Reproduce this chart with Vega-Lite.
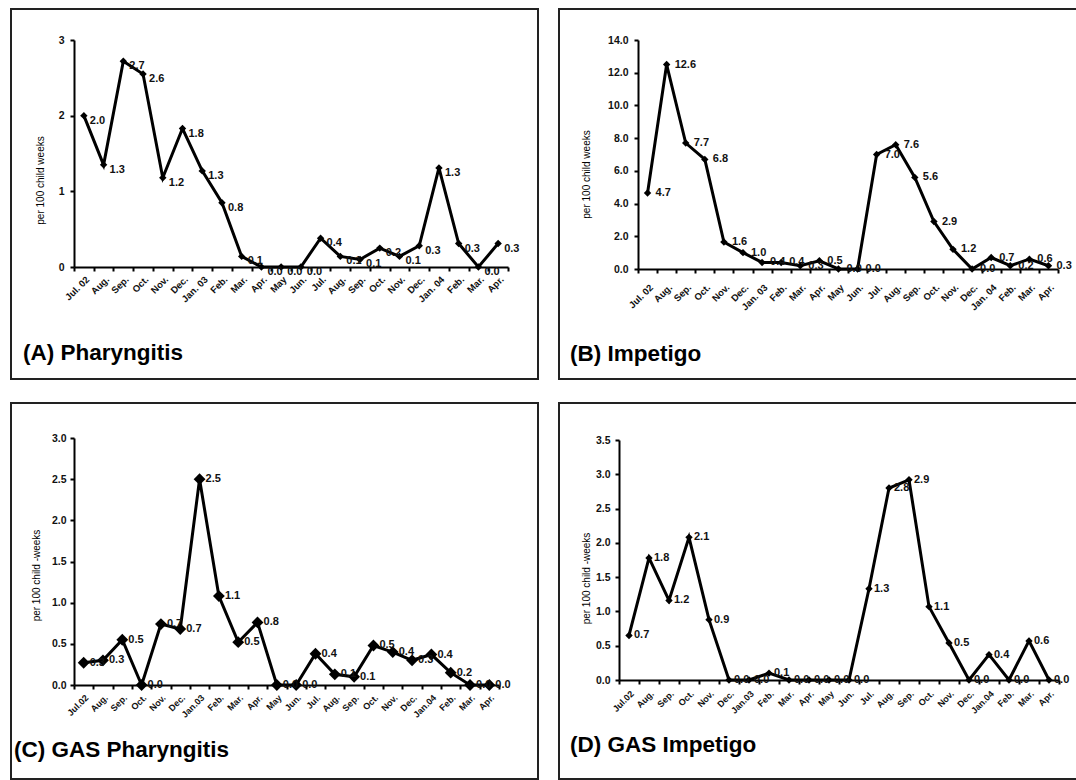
{
  "$schema": "https://vega.github.io/schema/vega-lite/v6.json",
  "padding": {"left": 10, "top": 8, "right": 0, "bottom": 0},
  "background": "white",
  "config": {
    "view": {"stroke": "#222", "strokeWidth": 2},
    "font": "Liberation Sans",
    "title": {"font": "Liberation Sans", "fontSize": 22.5, "fontWeight": "bold", "color": "black", "orient": "bottom", "anchor": "start"},
    "axis": {"grid": false, "domainColor": "black", "domainWidth": 2, "tickColor": "black", "tickWidth": 2, "tickSize": 4, "labelFont": "Liberation Sans", "labelFontWeight": "bold", "labelColor": "#111", "labelFontSize": 10.5, "titleFont": "Liberation Sans", "titleFontWeight": "normal", "titleFontSize": 10, "titleColor": "black", "titleBaseline": "middle", "titleAngle": -90}
  },
  "data": {"values": [
    {"p":"A","i":1,"v":2.0,"t":"2.0"},{"p":"A","i":2,"v":1.35,"t":"1.3"},{"p":"A","i":3,"v":2.72,"t":"2.7"},{"p":"A","i":4,"v":2.55,"t":"2.6"},{"p":"A","i":5,"v":1.18,"t":"1.2"},{"p":"A","i":6,"v":1.83,"t":"1.8"},{"p":"A","i":7,"v":1.27,"t":"1.3"},{"p":"A","i":8,"v":0.85,"t":"0.8"},{"p":"A","i":9,"v":0.14,"t":"0.1"},{"p":"A","i":10,"v":0,"t":"0.0"},{"p":"A","i":11,"v":0,"t":"0.0"},{"p":"A","i":12,"v":0,"t":"0.0"},{"p":"A","i":13,"v":0.38,"t":"0.4"},{"p":"A","i":14,"v":0.14,"t":"0.1"},{"p":"A","i":15,"v":0.1,"t":"0.1"},{"p":"A","i":16,"v":0.25,"t":"0.2"},{"p":"A","i":17,"v":0.14,"t":"0.1"},{"p":"A","i":18,"v":0.28,"t":"0.3"},{"p":"A","i":19,"v":1.31,"t":"1.3"},{"p":"A","i":20,"v":0.31,"t":"0.3"},{"p":"A","i":21,"v":0,"t":"0.0"},{"p":"A","i":22,"v":0.31,"t":"0.3"},
    {"p":"B","i":1,"v":4.65,"t":"4.7"},{"p":"B","i":2,"v":12.5,"t":"12.6"},{"p":"B","i":3,"v":7.7,"t":"7.7"},{"p":"B","i":4,"v":6.7,"t":"6.8"},{"p":"B","i":5,"v":1.65,"t":"1.6"},{"p":"B","i":6,"v":1.0,"t":"1.0"},{"p":"B","i":7,"v":0.4,"t":"0.4"},{"p":"B","i":8,"v":0.4,"t":"0.4"},{"p":"B","i":9,"v":0.2,"t":"0.3"},{"p":"B","i":10,"v":0.5,"t":"0.5"},{"p":"B","i":11,"v":0,"t":"0.0"},{"p":"B","i":12,"v":0,"t":"0.0"},{"p":"B","i":13,"v":7.0,"t":"7.0"},{"p":"B","i":14,"v":7.6,"t":"7.6"},{"p":"B","i":15,"v":5.6,"t":"5.6"},{"p":"B","i":16,"v":2.9,"t":"2.9"},{"p":"B","i":17,"v":1.2,"t":"1.2"},{"p":"B","i":18,"v":0,"t":"0.0"},{"p":"B","i":19,"v":0.7,"t":"0.7"},{"p":"B","i":20,"v":0.2,"t":"0.2"},{"p":"B","i":21,"v":0.6,"t":"0.6"},{"p":"B","i":22,"v":0.2,"t":"0.3"},
    {"p":"C","i":1,"v":0.27,"t":"0.3"},{"p":"C","i":2,"v":0.3,"t":"0.3"},{"p":"C","i":3,"v":0.55,"t":"0.5"},{"p":"C","i":4,"v":0,"t":"0.0"},{"p":"C","i":5,"v":0.74,"t":"0.7"},{"p":"C","i":6,"v":0.68,"t":"0.7"},{"p":"C","i":7,"v":2.5,"t":"2.5"},{"p":"C","i":8,"v":1.08,"t":"1.1"},{"p":"C","i":9,"v":0.52,"t":"0.5"},{"p":"C","i":10,"v":0.76,"t":"0.8"},{"p":"C","i":11,"v":0,"t":"0.0"},{"p":"C","i":12,"v":0,"t":"0.0"},{"p":"C","i":13,"v":0.38,"t":"0.4"},{"p":"C","i":14,"v":0.13,"t":"0.1"},{"p":"C","i":15,"v":0.1,"t":"0.1"},{"p":"C","i":16,"v":0.48,"t":"0.5"},{"p":"C","i":17,"v":0.4,"t":"0.4"},{"p":"C","i":18,"v":0.3,"t":"0.3"},{"p":"C","i":19,"v":0.37,"t":"0.4"},{"p":"C","i":20,"v":0.15,"t":"0.2"},{"p":"C","i":21,"v":0,"t":"0.0"},{"p":"C","i":22,"v":0,"t":"0.0"},
    {"p":"D","i":1,"v":0.65,"t":"0.7"},{"p":"D","i":2,"v":1.78,"t":"1.8"},{"p":"D","i":3,"v":1.16,"t":"1.2"},{"p":"D","i":4,"v":2.08,"t":"2.1"},{"p":"D","i":5,"v":0.88,"t":"0.9"},{"p":"D","i":6,"v":0,"t":"0.0"},{"p":"D","i":7,"v":0,"t":"0.0"},{"p":"D","i":8,"v":0.1,"t":"0.1"},{"p":"D","i":9,"v":0,"t":"0.0"},{"p":"D","i":10,"v":0,"t":"0.0"},{"p":"D","i":11,"v":0,"t":"0.0"},{"p":"D","i":12,"v":0,"t":"0.0"},{"p":"D","i":13,"v":1.33,"t":"1.3"},{"p":"D","i":14,"v":2.8,"t":"2.8"},{"p":"D","i":15,"v":2.92,"t":"2.9"},{"p":"D","i":16,"v":1.07,"t":"1.1"},{"p":"D","i":17,"v":0.54,"t":"0.5"},{"p":"D","i":18,"v":0,"t":"0.0"},{"p":"D","i":19,"v":0.37,"t":"0.4"},{"p":"D","i":20,"v":0,"t":"0.0"},{"p":"D","i":21,"v":0.57,"t":"0.6"},{"p":"D","i":22,"v":0,"t":"0.0"}
  ]},
  "vconcat": [
    {"spacing": 19, "hconcat": [
      {
        "width": 527, "height": 370,
        "title": {"text": "(A) Pharyngitis", "offset": -37, "dx": 12},
        "transform": [{"filter": "datum.p === 'A'"}],
        "encoding": {
          "x": {"field": "i", "type": "ordinal", "scale": {"type": "band", "range": [63, 497], "paddingInner": 0, "paddingOuter": 0},
                "axis": {"offset": -112, "tickBand": "extent", "labelAngle": -45, "labelPadding": 3, "title": null, "labelFontSize": 9.5,
                         "labelExpr": "['Jul. 02','Aug.','Sep.','Oct.','Nov.','Dec.','Jan. 03','Feb.','Mar.','Apr.','May','Jun.','Jul.','Aug.','Sep.','Oct.','Nov.','Dec.','Jan. 04','Feb.','Mar.','Apr.'][datum.value - 1]"}},
          "y": {"field": "v", "type": "quantitative", "scale": {"domain": [0, 3], "range": [258, 31], "nice": false},
                "axis": {"offset": -63, "values": [0, 1, 2, 3], "format": "d", "title": "per 100 child weeks", "titleX": -34, "titleY": 171, "labelPadding": 6}}
        },
        "layer": [
          {"mark": {"type": "line", "color": "black", "strokeWidth": 3}},
          {"mark": {"type": "point", "shape": "diamond", "filled": true, "color": "black", "size": 55, "opacity": 1}},
          {"mark": {"type": "text", "align": "left", "dx": 6, "dy": 5, "fontSize": 11, "fontWeight": "bold", "color": "#111"}, "encoding": {"text": {"field": "t"}}}
        ]
      },
      {
        "width": 519, "height": 370,
        "title": {"text": "(B) Impetigo", "offset": -36, "dx": 11},
        "transform": [{"filter": "datum.p === 'B'"}],
        "encoding": {
          "x": {"field": "i", "type": "ordinal", "scale": {"type": "band", "range": [79, 499], "paddingInner": 0, "paddingOuter": 0},
                "axis": {"offset": -110, "tickBand": "extent", "labelAngle": -45, "labelPadding": 9, "title": null, "labelFontSize": 9.5,
                         "labelExpr": "['Jul. 02','Aug.','Sep.','Oct.','Nov.','Dec.','Jan. 03','Feb.','Mar.','Apr.','May','Jun.','Jul.','Aug.','Sep.','Oct.','Nov.','Dec.','Jan. 04','Feb.','Mar.','Apr.'][datum.value - 1]"}},
          "y": {"field": "v", "type": "quantitative", "scale": {"domain": [0, 14], "range": [260, 31], "nice": false},
                "axis": {"offset": -79, "values": [0, 2, 4, 6, 8, 10, 12, 14], "format": ".1f", "title": "per 100 child weeks", "titleX": -52, "titleY": 165, "labelPadding": 6}}
        },
        "layer": [
          {"mark": {"type": "line", "color": "black", "strokeWidth": 3}},
          {"mark": {"type": "point", "shape": "diamond", "filled": true, "color": "black", "size": 55, "opacity": 1}},
          {"mark": {"type": "text", "align": "left", "dx": 8, "dy": 0, "fontSize": 11, "fontWeight": "bold", "color": "#111"}, "encoding": {"text": {"field": "t"}}}
        ]
      }
    ]},
    {"spacing": 19, "hconcat": [
      {
        "width": 527, "height": 376,
        "title": {"text": "(C) GAS Pharyngitis", "offset": -40, "dx": 3},
        "transform": [{"filter": "datum.p === 'C'"}],
        "encoding": {
          "x": {"field": "i", "type": "ordinal", "scale": {"type": "band", "range": [63, 488], "paddingInner": 0, "paddingOuter": 0},
                "axis": {"offset": -94, "tickBand": "extent", "labelAngle": -45, "labelPadding": 4, "title": null, "labelFontSize": 9,
                         "labelExpr": "['Jul.02','Aug.','Sep.','Oct.','Nov.','Dec.','Jan.03','Feb.','Mar.','Apr.','May','Jun.','Jul.','Aug.','Sep.','Oct.','Nov.','Dec.','Jan.04','Feb.','Mar.','Apr.'][datum.value - 1]"}},
          "y": {"field": "v", "type": "quantitative", "scale": {"domain": [0, 3], "range": [282, 35], "nice": false},
                "axis": {"offset": -63, "values": [0, 0.5, 1, 1.5, 2, 2.5, 3], "format": ".1f", "title": "per 100 child    -weeks", "titleX": -38, "titleY": 172, "labelPadding": 4}}
        },
        "layer": [
          {"mark": {"type": "line", "color": "black", "strokeWidth": 3}},
          {"mark": {"type": "point", "shape": "diamond", "filled": true, "color": "black", "size": 140, "opacity": 1}},
          {"mark": {"type": "text", "align": "left", "dx": 6, "dy": 0, "fontSize": 11, "fontWeight": "bold", "color": "#111"}, "encoding": {"text": {"field": "t"}}}
        ]
      },
      {
        "width": 519, "height": 376,
        "title": {"text": "(D) GAS Impetigo", "offset": -45, "dx": 11},
        "transform": [{"filter": "datum.p === 'D'"}],
        "encoding": {
          "x": {"field": "i", "type": "ordinal", "scale": {"type": "band", "range": [60, 500], "paddingInner": 0, "paddingOuter": 0},
                "axis": {"offset": -99, "tickBand": "extent", "labelAngle": -45, "labelPadding": 5, "title": null, "labelFontSize": 9,
                         "labelExpr": "['Jul.02','Aug.','Sep.','Oct.','Nov.','Dec.','Jan.03','Feb.','Mar.','Apr.','May','Jun.','Jul.','Aug.','Sep.','Oct.','Nov.','Dec.','Jan.04','Feb.','Mar.','Apr.'][datum.value - 1]"}},
          "y": {"field": "v", "type": "quantitative", "scale": {"domain": [0, 3.5], "range": [277, 37], "nice": false},
                "axis": {"offset": -60, "values": [0, 0.5, 1, 1.5, 2, 2.5, 3, 3.5], "format": ".1f", "title": "per 100 child    -weeks", "titleX": -33, "titleY": 175, "labelPadding": 5}}
        },
        "layer": [
          {"mark": {"type": "line", "color": "black", "strokeWidth": 3}},
          {"mark": {"type": "point", "shape": "diamond", "filled": true, "color": "black", "size": 55, "opacity": 1}},
          {"mark": {"type": "text", "align": "left", "dx": 5, "dy": 0, "fontSize": 11, "fontWeight": "bold", "color": "#111"}, "encoding": {"text": {"field": "t"}}}
        ]
      }
    ]}
  ],
  "spacing": 22
}
